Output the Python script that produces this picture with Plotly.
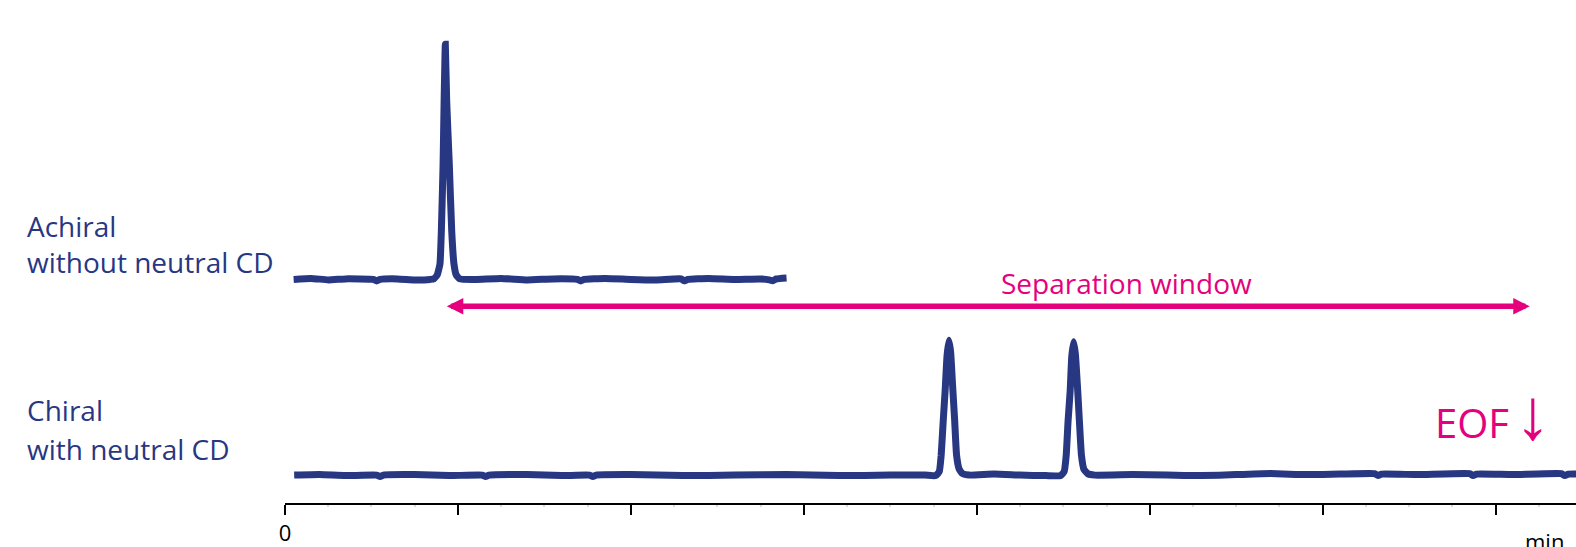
import plotly.graph_objects as go

NAVY = "#283782"
PINK = "#e5007d"
FONT = "Open Sans"

# ---- data: electropherograms (time in minutes, signal in arbitrary units) ----
achiral_t = [0.050, 0.15, 0.25, 0.35, 0.51, 0.53, 0.55, 0.65, 0.75, 0.84,
             0.860, 0.880, 0.896, 0.904, 0.914, 0.920, 0.927, 0.935, 0.950, 0.964, 0.977, 0.990, 1.010,
             1.10, 1.25, 1.40, 1.55, 1.69, 1.71, 1.73, 1.85, 2.00, 2.15, 2.29, 2.31, 2.33,
             2.45, 2.60, 2.75, 2.80, 2.82, 2.84, 2.90]
achiral_s = [44.9, 45.1, 44.8, 45.0, 44.9, 44.6, 44.9, 45.0, 44.8, 44.9,
             45.0, 45.8, 48.0, 54.6, 68.0, 80.6, 92.1, 80.6, 68.0, 54.6, 48.0, 45.8, 45.0,
             44.9, 45.1, 44.8, 45.0, 44.9, 44.6, 44.9, 45.1, 44.9, 44.8, 45.0, 44.6, 44.9,
             45.1, 44.9, 45.0, 44.8, 44.6, 45.0, 45.2]

chiral_t = [0.053, 0.20, 0.35, 0.53, 0.55, 0.57, 0.75, 0.95, 1.14, 1.16, 1.18, 1.40, 1.60,
            1.76, 1.78, 1.80, 2.00, 2.30, 2.60, 2.90, 3.20, 3.50, 3.70,
            3.762, 3.783, 3.794, 3.806, 3.817, 3.828, 3.839, 3.849, 3.860, 3.872, 3.883, 3.898, 3.918, 3.958,
            4.10, 4.25, 4.40,
            4.485, 4.505, 4.517, 4.528, 4.540, 4.549, 4.560, 4.570, 4.582, 4.593, 4.605, 4.619, 4.641, 4.682,
            4.90, 5.10, 5.30, 5.50, 5.70, 5.90, 6.10, 6.30, 6.32, 6.34, 6.55, 6.85, 6.87, 6.89,
            7.10, 7.38, 7.40, 7.42, 7.50]
chiral_s = [5.6, 5.7, 5.5, 5.6, 5.3, 5.6, 5.7, 5.5, 5.6, 5.3, 5.6, 5.7, 5.5,
            5.6, 5.3, 5.6, 5.7, 5.5, 5.6, 5.7, 5.5, 5.6, 5.6,
            5.5, 6.3, 9.6, 16.6, 22.6, 29.6, 32.7, 30.2, 23.6, 16.6, 9.6, 6.8, 5.9, 5.6,
            5.8, 5.6, 5.5,
            5.5, 6.3, 9.6, 16.6, 22.6, 29.4, 32.4, 29.9, 23.4, 16.6, 9.6, 6.8, 5.9, 5.6,
            5.7, 5.6, 5.5, 5.7, 5.9, 5.7, 5.8, 5.9, 5.5, 5.8, 5.7, 5.9, 5.5, 5.8,
            5.7, 5.9, 5.5, 5.8, 5.8]

major_ticks = [0, 1, 2, 3, 4, 5, 6, 7]
major_labels = ["0", "", "", "", "", "", "", ""]
separation_window = [0.927, 7.197]   # start / end of the separation window (min)
window_level = 39.5
x_max = 7.4646

fig = go.Figure()
for tt, ss in [(achiral_t, achiral_s), (chiral_t, chiral_s)]:
    fig.add_trace(go.Scatter(x=tt, y=ss, mode="lines",
                             line=dict(color=NAVY, width=7, shape="spline", smoothing=0.4),
                             hoverinfo="skip", showlegend=False))

# double-headed arrow for the separation window
fig.add_annotation(x=separation_window[1], y=window_level, ax=separation_window[0], ay=window_level,
                   xref="x", yref="y", axref="x", ayref="y", text="", showarrow=True,
                   arrowhead=2, startarrowhead=2, arrowside="end+start",
                   arrowsize=0.6, startarrowsize=0.6, arrowwidth=5.5, arrowcolor=PINK)
fig.add_annotation(x=4.867, y=44.2, xref="x", yref="y", text="Separation window",
                   showarrow=False, font=dict(family=FONT, size=28, color=PINK),
                   xanchor="center", yanchor="middle")
fig.add_annotation(x=6.636, y=16.2, xref="x", yref="y", text="EOF",
                   showarrow=False, font=dict(family=FONT, size=40, color=PINK),
                   xanchor="left", yanchor="middle")
fig.add_annotation(x=7.215, y=17.9, xref="x", yref="y", text="↓",
                   showarrow=False, font=dict(family="Liberation Sans", size=72, color=PINK),
                   xanchor="center", yanchor="middle")

lab = dict(family=FONT, size=28, color=NAVY)
for txt, yy in [("Achiral", 55.6), ("without neutral CD", 48.4),
                ("Chiral", 18.6), ("with neutral CD", 10.8)]:
    fig.add_annotation(x=-0.2015, y=yy, xref="paper", yref="y", text=txt, showarrow=False,
                       font=lab, xanchor="left", yanchor="middle")

fig.add_annotation(x=7.28, y=-0.075, xref="x", yref="paper", text="min", showarrow=False,
                   font=dict(family=FONT, size=22, color="black"), xanchor="center", yanchor="middle")

fig.update_layout(
    width=1576, height=547, autosize=False,
    margin=dict(l=285, r=0, t=0, b=40),
    paper_bgcolor="white", plot_bgcolor="white",
    xaxis=dict(range=[0, x_max], showgrid=False, zeroline=False, showline=True,
               linecolor="black", linewidth=2, ticks="outside", ticklen=10, tickwidth=2,
               tickcolor="black", tickmode="array", tickvals=major_ticks, ticktext=major_labels,
               tickfont=dict(family=FONT, size=22, color="black"),
               minor=dict(ticks="outside", ticklen=2, tickwidth=2, tickcolor="#e4dcc4",
                          tickmode="linear", tick0=0, dtick=0.25, showgrid=False)),
    yaxis=dict(range=[0, 101], visible=False),
)

fig.write_html("out.html", config={"displayModeBar": False},
               post_script="document.body.style.margin='0';document.body.style.overflow='hidden';")
